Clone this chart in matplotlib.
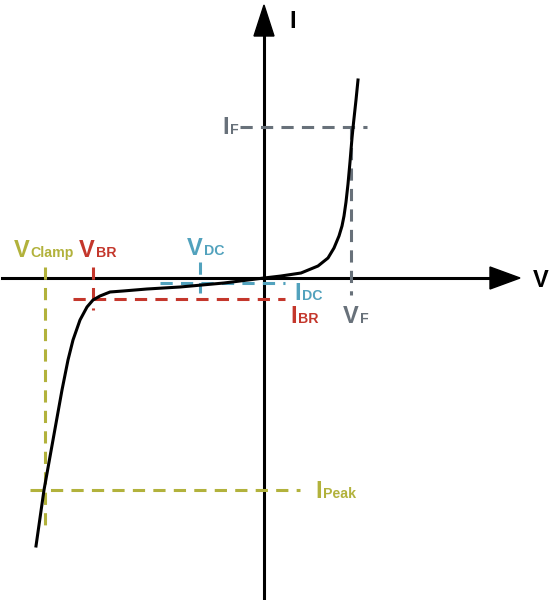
import matplotlib.pyplot as plt

# diode I-V curve (origin at the axes crossing)
curve_v = [-228, -220, -211, -202, -196, -191, -184, -177, -171, -164, -154,
           -141, -117, -84, -40, 0, 17, 37, 54, 64, 70, 75, 78, 80, 82, 84,
           86, 88, 89.5, 92, 94]
curve_i = [-268, -212, -162, -112, -82, -62, -42, -29, -22, -18, -14,
           -13, -11, -9, -5, 0, 2, 5, 12, 20, 30, 42, 52, 62, 76, 94,
           116, 140, 155, 178, 198]

# marker levels
v_clamp, v_br, v_dc, v_f = -219, -171, -64, 87
i_peak, i_br, i_dc, i_f = -212, -21, -5, 151

olive = '#b2b23c'
red = '#c4372c'
blue = '#52a2bd'
gray = '#68717a'
font = ['Liberation Sans Narrow', 'Liberation Sans']

fig = plt.figure(figsize=(5.5, 6), dpi=100)
ax = fig.add_axes([0, 0, 1, 1])
ax.set_xlim(-264, 286)
ax.set_ylim(-322, 278)
ax.axis('off')

dash = dict(lw=2.2, linestyle=(0, (4, 2.7)))

# axes with arrow heads
ax.plot([-262, 230], [0, 0], color='black', lw=2.2)
ax.plot([0, 0], [-320, 245], color='black', lw=2.2)
ax.fill([226, 256, 226], [11, 0, -11], color='black')
ax.fill([-10, 0, 10], [242, 273, 242], color='black')

# guide lines
ax.plot([v_clamp, v_clamp], [11, -249], color=olive, **dash)
ax.plot([-234, 36], [i_peak, i_peak], color=olive, **dash)
ax.plot([v_br, v_br], [11, -32], color=red, **dash)
ax.plot([-191, 21], [i_br, i_br], color=red, **dash)
ax.plot([v_dc, v_dc], [16, -15], color=blue, **dash)
ax.plot([-104, 21], [i_dc, i_dc], color=blue, **dash)
ax.plot([v_f, v_f], [i_f, -17], color=gray, **dash)
ax.plot([-24, 103], [i_f, i_f], color=gray, **dash)

ax.plot(curve_v, curve_i, color='black', lw=2.2, solid_joinstyle='round')

renderer = fig.canvas.get_renderer()


def label(x, y, main, sub, color, size=17):
    t = ax.text(x, y, main, color=color, fontsize=size, family=font,
                weight='bold', ha='left', va='baseline')
    if sub:
        # one data unit is one pixel here
        w = t.get_window_extent(renderer=renderer).width
        ax.text(x + w + 1, y, sub, color=color, fontsize=size * 0.6,
                family=font, weight='bold', ha='left', va='baseline')


label(-250, 21, 'V', 'Clamp', olive)
label(-185, 21, 'V', 'BR', red)
label(-77, 23, 'V', 'DC', blue)
label(30, -22, 'I', 'DC', blue)
label(26, -45, 'I', 'BR', red)
label(79, -45, 'V', 'F', gray)
label(-42, 144, 'I', 'F', gray)
label(51, -220, 'I', 'Peak', olive)
label(25, 250, 'I', '', 'black')
label(269, -9, 'V', '', 'black')

fig.savefig('out.png', dpi=100)
